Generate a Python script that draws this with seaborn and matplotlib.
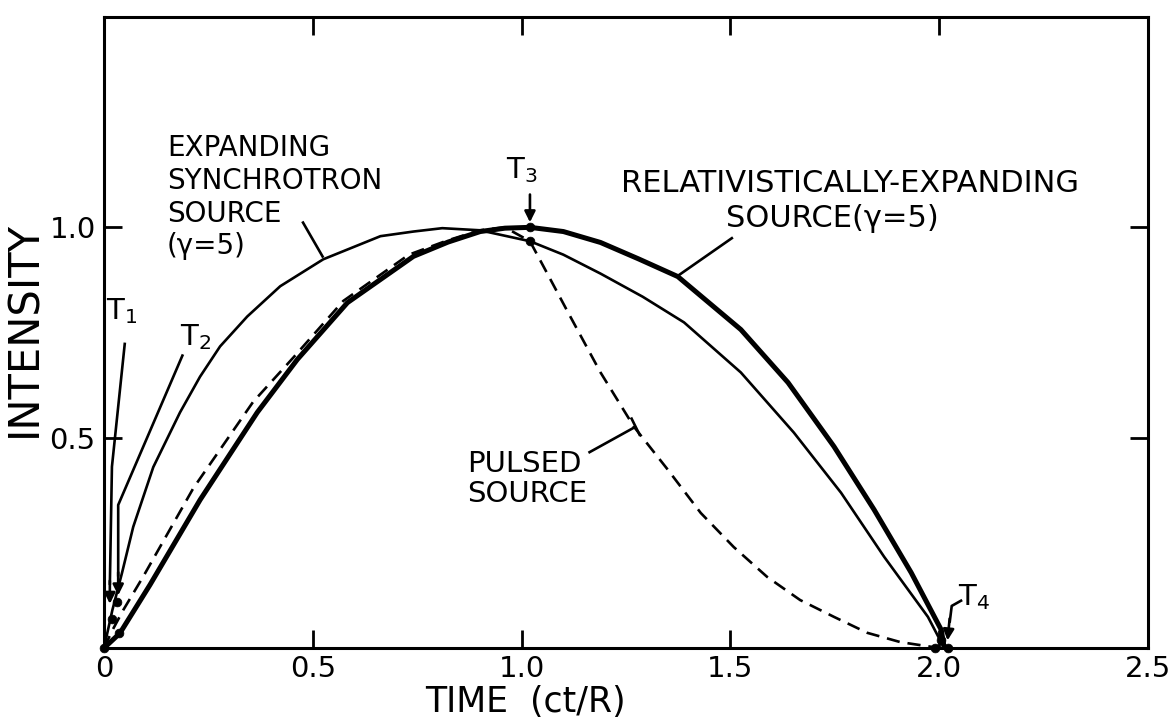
import numpy as np
import pandas as pd
import matplotlib
matplotlib.use("Agg")
import matplotlib.pyplot as plt
import seaborn as sns

# ---- data ----
sync_x = [0, 0.02, 0.043, 0.07, 0.118, 0.182, 0.23, 0.278, 0.343, 0.422, 0.525, 0.662,
          0.741, 0.81, 0.90, 1.02, 1.10, 1.189, 1.29, 1.389, 1.525, 1.652, 1.765, 1.868,
          1.973, 2.012]
sync_y = [0, 0.09, 0.178, 0.288, 0.43, 0.56, 0.645, 0.717, 0.788, 0.86, 0.924, 0.979,
          0.99, 0.998, 0.993, 0.967, 0.935, 0.89, 0.835, 0.774, 0.655, 0.512, 0.369, 0.217,
          0.074, 0.0]

rel_x = [0, 0.038, 0.11, 0.23, 0.367, 0.463, 0.583, 0.741, 0.824, 0.901, 0.96, 1.02,
         1.10, 1.189, 1.28, 1.374, 1.525, 1.638, 1.748, 1.844, 1.933, 2.005, 2.012]
rel_y = [0, 0.035, 0.15, 0.352, 0.56, 0.686, 0.821, 0.931, 0.965, 0.99, 0.998, 1.0,
         0.99, 0.964, 0.925, 0.883, 0.757, 0.631, 0.479, 0.329, 0.179, 0.043, 0.0]

pulse_x = [0, 0.02, 0.046, 0.094, 0.214, 0.357, 0.453, 0.573, 0.73, 0.82, 0.90, 0.96,
           1.02, 1.06, 1.11, 1.189, 1.269, 1.35, 1.429, 1.508, 1.588, 1.667, 1.748,
           1.828, 1.907, 2.0]
pulse_y = [0, 0.042, 0.09, 0.17, 0.38, 0.585, 0.69, 0.825, 0.935, 0.968, 0.993, 1.0,
           0.967, 0.893, 0.80, 0.655, 0.526, 0.424, 0.321, 0.24, 0.169, 0.114, 0.074,
           0.036, 0.014, 0.0]

dot_x = [0, 0.035, 0.02, 0.03, 1.02, 1.02, 1.99, 2.02, 2.005]
dot_y = [0, 0.035, 0.07, 0.11, 1.0, 0.967, 0.0, 0.0, 0.02]

x_ticks = [0, 0.5, 1.0, 1.5, 2.0, 2.5]
x_tick_labels = ["0", "0.5", "1.0", "1.5", "2.0", "2.5"]
y_ticks = [0.5, 1.0]
y_tick_labels = ["0.5", "1.0"]

# ---- style ----
sns.set_style("ticks", {"xtick.direction": "in", "ytick.direction": "in",
                        "text.color": "black", "axes.labelcolor": "black",
                        "xtick.color": "black", "ytick.color": "black",
                        "axes.edgecolor": "black"})
plt.rcParams["font.family"] = ["DejaVu Sans"]
plt.rcParams["mathtext.fontset"] = "dejavusans"

fig = plt.figure(figsize=(11.71, 7.27), dpi=100)
ax = fig.add_axes([104 / 1171, 79 / 727, 1044 / 1171, 631 / 727])

df_sync = pd.DataFrame({"x": sync_x, "y": sync_y})
df_rel = pd.DataFrame({"x": rel_x, "y": rel_y})
df_pulse = pd.DataFrame({"x": pulse_x, "y": pulse_y})
df_dots = pd.DataFrame({"x": dot_x, "y": dot_y})

sns.lineplot(data=df_sync, x="x", y="y", ax=ax, color="black", linewidth=1.9,
             sort=False, estimator=None)
sns.lineplot(data=df_rel, x="x", y="y", ax=ax, color="black", linewidth=3.6,
             sort=False, estimator=None)
sns.lineplot(data=df_pulse, x="x", y="y", ax=ax, color="black", linewidth=1.9,
             linestyle=(0, (5, 3)), sort=False, estimator=None)
sns.scatterplot(data=df_dots, x="x", y="y", ax=ax, color="black", s=40,
                edgecolor="black", zorder=5, clip_on=False)

ax.set_xlim(0, 2.5)
ax.set_ylim(0, 1.5)
ax.set_xticks(x_ticks)
ax.set_xticklabels(x_tick_labels, fontsize=21)
ax.set_yticks(y_ticks)
ax.set_yticklabels(y_tick_labels, fontsize=21)
ax.tick_params(axis="both", which="both", direction="in", length=13, width=2,
               top=True, right=True, color="black", labelcolor="black")
ax.tick_params(axis="x", pad=5)
ax.tick_params(axis="y", pad=6)
for sp in ax.spines.values():
    sp.set_visible(True)
    sp.set_linewidth(2.2)
    sp.set_color("black")

ax.set_xlabel("TIME  (ct/R)", fontsize=25, color="black")
ax.set_ylabel("INTENSITY", fontsize=30, color="black")
ax.xaxis.set_label_coords(0.404, -0.058)
ax.yaxis.set_label_coords(-0.056, 0.505)
ax.xaxis.label.set_va("top")

tk = dict(color="black")

# ---- annotation texts ----
ax.text(0.151, 1.222, "EXPANDING\nSYNCHROTRON\nSOURCE\n(γ=5)", fontsize=20,
        ha="left", va="top", linespacing=1.22, **tk)
ax.text(1.237, 1.138, "RELATIVISTICALLY-EXPANDING", fontsize=22, ha="left", va="top", **tk)
ax.text(1.489, 1.055, "SOURCE(γ=5)", fontsize=22, ha="left", va="top", **tk)
ax.text(0.870, 0.470, "PULSED\nSOURCE", fontsize=21, ha="left", va="top",
        linespacing=1.1, **tk)
ax.text(0.043, 0.80, r"$\mathregular{T_1}$", fontsize=21, ha="center", va="center", **tk)
ax.text(0.218, 0.74, r"$\mathregular{T_2}$", fontsize=21, ha="center", va="center", **tk)
ax.text(1.0, 1.135, r"$\mathregular{T_3}$", fontsize=21, ha="center", va="center", **tk)
ax.text(2.084, 0.12, r"$\mathregular{T_4}$", fontsize=21, ha="center", va="center", **tk)

# ---- leader lines ----
lk = dict(color="black", linewidth=1.9, solid_capstyle="butt")
ax.plot([0.475, 0.525], [1.014, 0.928], **lk)
ax.plot([1.506, 1.376], [0.976, 0.886], **lk)
ax.plot([1.16, 1.273], [0.464, 0.526], **lk)
ax.plot([1.262, 1.284], [0.548, 0.504], **lk)
ax.plot([0.050, 0.019, 0.014], [0.726, 0.431, 0.150], **lk)
ax.plot([0.189, 0.034, 0.034], [0.698, 0.340, 0.170], **lk)
ax.plot([2.055, 2.03, 2.025], [0.114, 0.10, 0.06], **lk)

ak = dict(arrowstyle="-|>", color="black", lw=1.9, mutation_scale=16,
          shrinkA=0, shrinkB=0)
ax.annotate("", xy=(0.014, 0.105), xytext=(0.014, 0.16), arrowprops=ak)
ax.annotate("", xy=(0.034, 0.125), xytext=(0.034, 0.18), arrowprops=ak)
ax.annotate("", xy=(1.02, 1.012), xytext=(1.02, 1.078), arrowprops=ak)
ax.annotate("", xy=(2.02, 0.018), xytext=(2.025, 0.07), arrowprops=ak)

fig.savefig("out.png", dpi=100)
